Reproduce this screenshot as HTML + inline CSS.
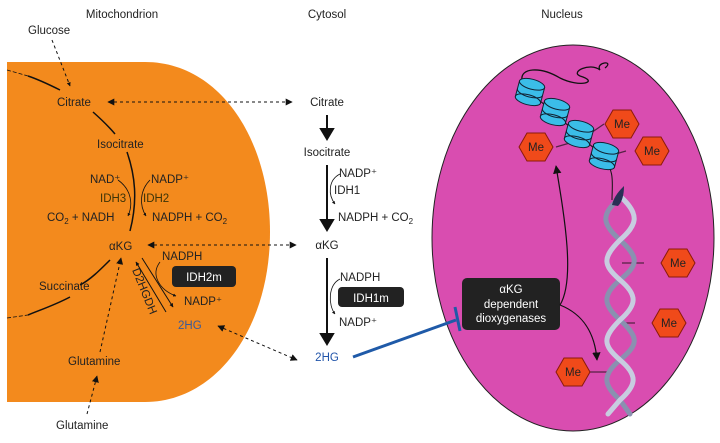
<!DOCTYPE html>
<html><head><meta charset="utf-8"><style>
html,body{margin:0;padding:0;background:#fff}
svg{display:block}
text{font-family:"Liberation Sans",Arial,sans-serif;font-size:11.5px;fill:#222}
.t{text-anchor:middle}
</style></head><body>
<svg width="720" height="443" viewBox="0 0 720 443" xmlns="http://www.w3.org/2000/svg">
<defs>
<marker id="a" viewBox="0 0 10 10" refX="9" refY="5" markerWidth="7" markerHeight="7" orient="auto-start-reverse"><path d="M0,0L10,5L0,10z" fill="#111"/></marker>
<marker id="b" viewBox="0 0 10 10" refX="9" refY="5" markerWidth="4" markerHeight="4" orient="auto-start-reverse"><path d="M0,0L10,5L0,10z" fill="#111"/></marker>
</defs>
<text class="t" x="122" y="18">Mitochondrion</text>
<text class="t" x="327" y="18">Cytosol</text>
<text class="t" x="562" y="18">Nucleus</text>

<path d="M7,62H145C220,62 270,140 270,232C270,330 215,402 145,402H7Z" fill="#f38a1d"/>
<ellipse cx="573" cy="238" rx="141" ry="193" fill="#d94db0" stroke="#222" stroke-width="1"/>

<text x="28" y="34">Glucose</text>
<text x="57" y="106">Citrate</text>
<text x="97" y="148">Isocitrate</text>
<text x="90" y="183">NAD⁺</text>
<text x="151" y="183">NADP⁺</text>
<text x="100" y="202" style="fill:#3d3408">IDH3</text>
<text x="143" y="202" style="fill:#3d3408">IDH2</text>
<text x="47" y="221">CO<tspan font-size="8" dy="3">2</tspan><tspan dy="-3"> + NADH</tspan></text>
<text x="152" y="221">NADPH + CO<tspan font-size="8" dy="3">2</tspan></text>
<text x="109" y="250">αKG</text>
<text x="162" y="260">NADPH</text>
<rect x="172" y="266" width="64" height="21" rx="4" fill="#222"/>
<text class="t" x="204" y="281" style="fill:#fff">IDH2m</text>
<text x="184" y="305">NADP⁺</text>
<text x="178" y="329" style="fill:#3a5a9a">2HG</text>
<text x="39" y="290">Succinate</text>
<text x="68" y="365">Glutamine</text>
<text x="56" y="429">Glutamine</text>
<text x="132" y="270" font-size="8" transform="rotate(68 132 270)">D2HGDH</text>

<g fill="none" stroke="#111" stroke-width="1.5">
<path d="M28,76C40,80 50,85 60,90"/>
<path d="M93,112C102,120 110,128 115,134"/>
<path d="M127,152C135,175 138,200 130,231"/>
<path d="M110,260C100,270 90,280 80,285"/>
<path d="M70,297C55,305 40,310 28,315"/>
</g>
<g fill="none" stroke="#111" stroke-width="0.8">
<path d="M7,70L28,76" stroke-dasharray="4,2"/>
<path d="M7,318L28,315" stroke-dasharray="4,2"/>
<path d="M118,180C132,190 133,205 128,216" marker-end="url(#b)"/>
<path d="M150,180C140,190 139,205 146,216" marker-end="url(#b)"/>
<path d="M160,262C150,275 160,290 176,296" marker-end="url(#b)"/>
<path d="M142,258L173,307" stroke-width="1" marker-end="url(#b)"/>
<path d="M166,312L136,262" stroke-width="1" marker-end="url(#b)"/>
</g>
<g fill="none" stroke="#111" stroke-width="1" stroke-dasharray="3,3">
<path d="M52,40L70,86" marker-end="url(#b)"/>
<path d="M108,102L292,102" marker-start="url(#a)" marker-end="url(#a)"/>
<path d="M148,245L296,245" marker-start="url(#a)" marker-end="url(#a)"/>
<path d="M218,326L297,360" marker-start="url(#a)" marker-end="url(#a)"/>
<path d="M100,352L121,258" marker-end="url(#a)"/>
<path d="M87,414L97,376" marker-end="url(#a)"/>
</g>

<text class="t" x="327" y="106">Citrate</text>
<text class="t" x="327" y="156">Isocitrate</text>
<text x="339" y="177">NADP⁺</text>
<text x="334" y="194">IDH1</text>
<text x="338" y="221">NADPH + CO<tspan font-size="8" dy="3">2</tspan></text>
<text class="t" x="327" y="249">αKG</text>
<text x="340" y="281">NADPH</text>
<rect x="338" y="287" width="66" height="20" rx="4" fill="#222"/>
<text class="t" x="371" y="302" style="fill:#fff">IDH1m</text>
<text x="339" y="326">NADP⁺</text>
<text class="t" x="327" y="361" style="fill:#2255aa">2HG</text>
<g stroke="#111" stroke-width="2" fill="#111">
<line x1="327" y1="115" x2="327" y2="130"/><path d="M321,129L333,129L327,139z"/>
<line x1="327" y1="165" x2="327" y2="220"/><path d="M321,220L333,220L327,230z"/>
<line x1="327" y1="258" x2="327" y2="335"/><path d="M321,334L333,334L327,344z"/>
</g>
<g fill="none" stroke="#111" stroke-width="0.8">
<path d="M340,174C328,180 328,195 335,204" marker-end="url(#b)"/>
<path d="M340,279C328,285 328,305 335,314" marker-end="url(#b)"/>
</g>
<path d="M353,357L456,320" stroke="#1f5aa8" stroke-width="3"/>
<path d="M455,307L460,331" stroke="#1f5aa8" stroke-width="3"/>

<rect x="462" y="278" width="98" height="52" rx="5" fill="#222"/>
<text class="t" x="511" y="293" style="fill:#fff">αKG</text>
<text class="t" x="511" y="308" style="fill:#fff">dependent</text>
<text class="t" x="511" y="322" style="fill:#fff">dioxygenases</text>
<g fill="none" stroke="#111" stroke-width="1.2">
<path d="M560,305C575,280 565,220 556,166" marker-end="url(#a)"/>
<path d="M560,305C585,315 595,335 597,360" marker-end="url(#a)"/>
<path d="M522,80C520,68 540,66 560,78C580,88 600,82 580,76C570,72 590,62 600,70C595,62 615,60 605,68" stroke-width="1.3"/>
<path d="M530,92L604,157M604,160C615,170 612,185 612,200" stroke-width="1"/>
<path d="M556,147L580,140M604,124L588,135M626,151L605,157M644,263L622,263M635,323L615,323M590,372L608,372" stroke="#552244"/>
</g>
<g fill="none" stroke-width="5" stroke-linecap="round">
<path d="M618,200C600,215 603,225 620,240C640,258 638,265 620,280C602,295 603,305 620,320C640,338 638,345 620,360C602,375 603,385 620,400L630,414" stroke="#8a90b0"/>
<path d="M622,198C640,215 637,225 620,240C602,258 603,265 620,280C638,295 637,305 620,320C602,338 603,345 620,360C638,375 637,385 620,400L608,414" stroke="#c8cce0"/>
</g>
<path d="M612,205C614,196 620,190 624,186C624,195 622,202 618,206z" fill="#2a2f55"/>
<g stroke="#123" stroke-width="1" fill="#3bbde8">
<g transform="translate(530,92) rotate(15)"><rect x="-13" y="-8" width="26" height="16"/><ellipse cx="0" cy="-8" rx="13" ry="5"/><ellipse cx="0" cy="8" rx="13" ry="5"/><path d="M-13,0A13,5 0 0 0 13,0" fill="none"/></g>
<g transform="translate(555,112) rotate(15)"><rect x="-13" y="-8" width="26" height="16"/><ellipse cx="0" cy="-8" rx="13" ry="5"/><ellipse cx="0" cy="8" rx="13" ry="5"/><path d="M-13,0A13,5 0 0 0 13,0" fill="none"/></g>
<g transform="translate(579,134) rotate(15)"><rect x="-13" y="-8" width="26" height="16"/><ellipse cx="0" cy="-8" rx="13" ry="5"/><ellipse cx="0" cy="8" rx="13" ry="5"/><path d="M-13,0A13,5 0 0 0 13,0" fill="none"/></g>
<g transform="translate(604,156) rotate(15)"><rect x="-13" y="-8" width="26" height="16"/><ellipse cx="0" cy="-8" rx="13" ry="5"/><ellipse cx="0" cy="8" rx="13" ry="5"/><path d="M-13,0A13,5 0 0 0 13,0" fill="none"/></g>
</g>
<g fill="#f04a1a" stroke="#8a1a0a" stroke-width="1">
<path d="M605,124l8,-14h18l8,14l-8,14h-18z"/>
<path d="M519,147l8,-14h18l8,14l-8,14h-18z"/>
<path d="M635,151l8,-14h18l8,14l-8,14h-18z"/>
<path d="M661,263l8,-14h18l8,14l-8,14h-18z"/>
<path d="M652,323l8,-14h18l8,14l-8,14h-18z"/>
<path d="M556,372l8,-14h18l8,14l-8,14h-18z"/>
</g>
<text class="t" x="622" y="128">Me</text>
<text class="t" x="536" y="151">Me</text>
<text class="t" x="652" y="155">Me</text>
<text class="t" x="678" y="267">Me</text>
<text class="t" x="669" y="327">Me</text>
<text class="t" x="573" y="376">Me</text>
</svg>
</body></html>
